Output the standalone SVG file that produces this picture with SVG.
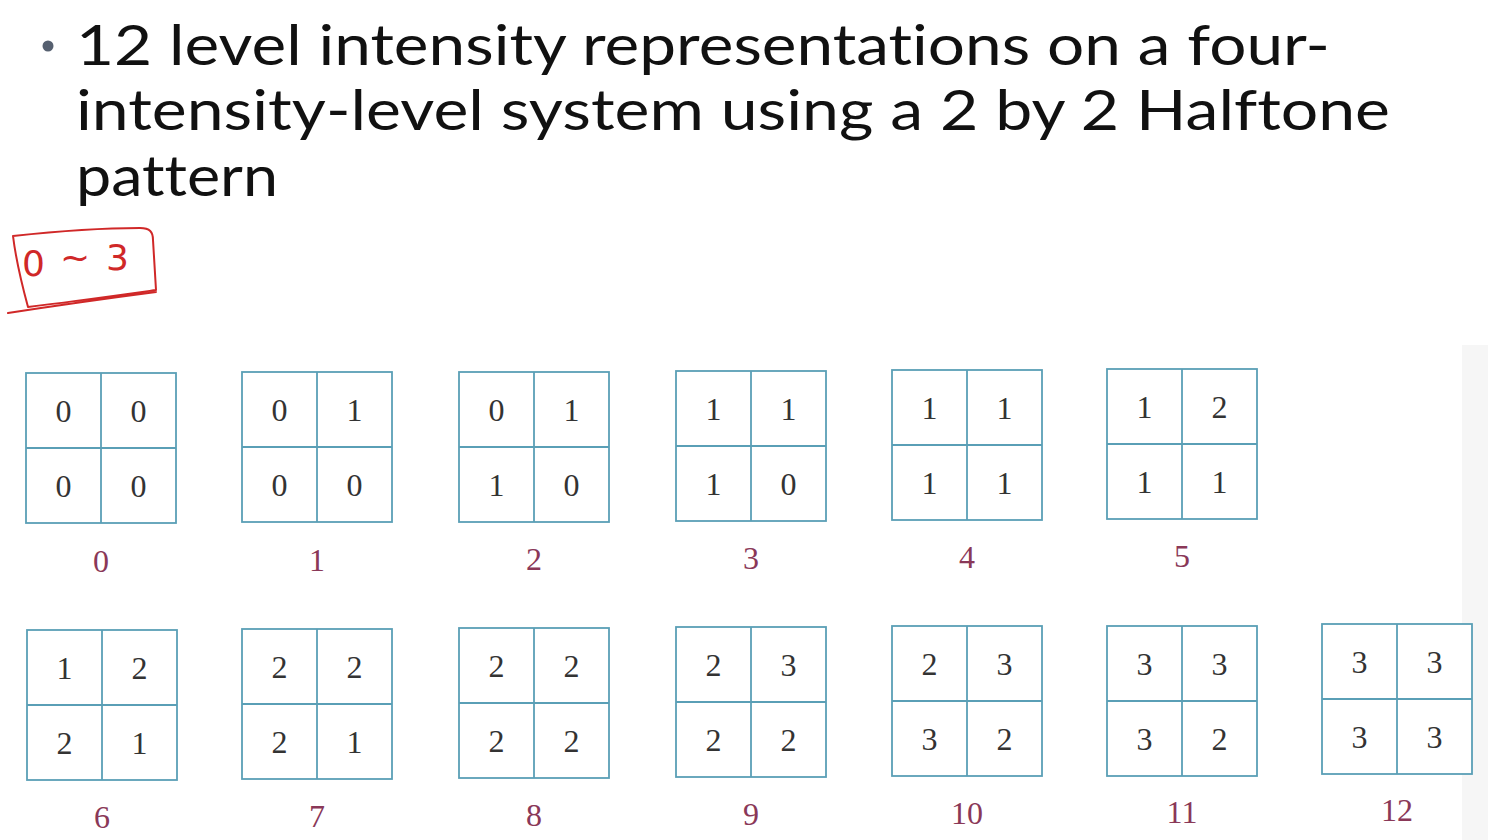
<svg xmlns="http://www.w3.org/2000/svg" width="1488" height="840" viewBox="0 0 1488 840">
<style>
.title{font-family:Lato,"Noto Sans","Liberation Sans",sans-serif;font-size:56px;fill:#111;font-variant-ligatures:none;font-feature-settings:"liga" 0,"dlig" 0}
.cell{fill:#fff;stroke:#5a9fb6;stroke-width:1.8}
.d{font-family:"Liberation Serif","Times New Roman",serif;font-size:32px;fill:#333;text-anchor:middle}
.lbl{font-family:"Liberation Serif","Times New Roman",serif;font-size:32px;fill:#8a3858;text-anchor:middle}
.hand{fill:none;stroke:#d02828;stroke-width:2;stroke-linecap:round;stroke-linejoin:round}
.handt{font-family:"DejaVu Sans","Liberation Sans",sans-serif;font-size:36px;fill:#d02828}
</style>
<defs>
<g id="grid">
<rect class="cell" x="0" y="0" width="150" height="150"/>
<line class="cell" x1="75" y1="0" x2="75" y2="150"/>
<line class="cell" x1="0" y1="75" x2="150" y2="75"/>
</g>
</defs>
<rect width="1488" height="840" fill="#fff"/>
<rect x="1462" y="345" width="26" height="495" fill="#f6f6f6"/>
<g id="title">
<circle cx="48" cy="46" r="5.5" fill="#566070"/>
<text class="title" x="76" y="65" textLength="1254" lengthAdjust="spacingAndGlyphs">12 level intensity representations on a four-</text>
<text class="title" x="76" y="130" textLength="1314" lengthAdjust="spacingAndGlyphs">intensity-level system using a 2 by 2 Halftone</text>
<text class="title" x="76" y="196" textLength="202" lengthAdjust="spacingAndGlyphs">pattern</text>
</g>
<g id="annotation">
<path class="hand" d="M13,236 C50,232 100,228 140,228 C150,228 153,232 153,240 L156,290 C120,295 70,302 28,307 M13,236 C16,260 22,285 28,307 M8,313 C60,305 110,298 156,292"/>
<text class="handt" x="22" y="276">0</text>
<text class="handt" x="60" y="270" font-size="30">~</text>
<text class="handt" x="106" y="270">3</text>
</g>
<g id="connectors"></g>
<g id="n0" transform="translate(26,373)"><use href="#grid"/><text class="d" x="37.5" y="49">0</text><text class="d" x="112.5" y="49">0</text><text class="d" x="37.5" y="124">0</text><text class="d" x="112.5" y="124">0</text><text class="lbl" x="75" y="199">0</text></g>
<g id="n1" transform="translate(242,372)"><use href="#grid"/><text class="d" x="37.5" y="49">0</text><text class="d" x="112.5" y="49">1</text><text class="d" x="37.5" y="124">0</text><text class="d" x="112.5" y="124">0</text><text class="lbl" x="75" y="199">1</text></g>
<g id="n2" transform="translate(459,372)"><use href="#grid"/><text class="d" x="37.5" y="49">0</text><text class="d" x="112.5" y="49">1</text><text class="d" x="37.5" y="124">1</text><text class="d" x="112.5" y="124">0</text><text class="lbl" x="75" y="198">2</text></g>
<g id="n3" transform="translate(676,371)"><use href="#grid"/><text class="d" x="37.5" y="49">1</text><text class="d" x="112.5" y="49">1</text><text class="d" x="37.5" y="124">1</text><text class="d" x="112.5" y="124">0</text><text class="lbl" x="75" y="198">3</text></g>
<g id="n4" transform="translate(892,370)"><use href="#grid"/><text class="d" x="37.5" y="49">1</text><text class="d" x="112.5" y="49">1</text><text class="d" x="37.5" y="124">1</text><text class="d" x="112.5" y="124">1</text><text class="lbl" x="75" y="198">4</text></g>
<g id="n5" transform="translate(1107,369)"><use href="#grid"/><text class="d" x="37.5" y="49">1</text><text class="d" x="112.5" y="49">2</text><text class="d" x="37.5" y="124">1</text><text class="d" x="112.5" y="124">1</text><text class="lbl" x="75" y="198">5</text></g>
<g id="n6" transform="translate(27,630)"><use href="#grid"/><text class="d" x="37.5" y="49">1</text><text class="d" x="112.5" y="49">2</text><text class="d" x="37.5" y="124">2</text><text class="d" x="112.5" y="124">1</text><text class="lbl" x="75" y="198">6</text></g>
<g id="n7" transform="translate(242,629)"><use href="#grid"/><text class="d" x="37.5" y="49">2</text><text class="d" x="112.5" y="49">2</text><text class="d" x="37.5" y="124">2</text><text class="d" x="112.5" y="124">1</text><text class="lbl" x="75" y="198">7</text></g>
<g id="n8" transform="translate(459,628)"><use href="#grid"/><text class="d" x="37.5" y="49">2</text><text class="d" x="112.5" y="49">2</text><text class="d" x="37.5" y="124">2</text><text class="d" x="112.5" y="124">2</text><text class="lbl" x="75" y="198">8</text></g>
<g id="n9" transform="translate(676,627)"><use href="#grid"/><text class="d" x="37.5" y="49">2</text><text class="d" x="112.5" y="49">3</text><text class="d" x="37.5" y="124">2</text><text class="d" x="112.5" y="124">2</text><text class="lbl" x="75" y="198">9</text></g>
<g id="n10" transform="translate(892,626)"><use href="#grid"/><text class="d" x="37.5" y="49">2</text><text class="d" x="112.5" y="49">3</text><text class="d" x="37.5" y="124">3</text><text class="d" x="112.5" y="124">2</text><text class="lbl" x="75" y="198">10</text></g>
<g id="n11" transform="translate(1107,626)"><use href="#grid"/><text class="d" x="37.5" y="49">3</text><text class="d" x="112.5" y="49">3</text><text class="d" x="37.5" y="124">3</text><text class="d" x="112.5" y="124">2</text><text class="lbl" x="75" y="197">11</text></g>
<g id="n12" transform="translate(1322,624)"><use href="#grid"/><text class="d" x="37.5" y="49">3</text><text class="d" x="112.5" y="49">3</text><text class="d" x="37.5" y="124">3</text><text class="d" x="112.5" y="124">3</text><text class="lbl" x="75" y="197">12</text></g>
</svg>
